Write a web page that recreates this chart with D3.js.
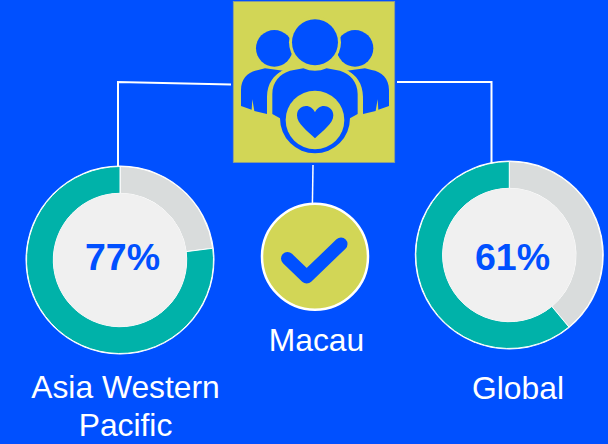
<!DOCTYPE html>
<html>
<head>
<meta charset="utf-8">
<script src="https://cdn.jsdelivr.net/npm/d3@7"></script>
<style>
  html, body { margin: 0; padding: 0; background: #0050ff; }
  svg { display: block; }
  text { font-family: "Liberation Sans", Arial, sans-serif; }
</style>
</head>
<body>
<svg width="608" height="444"></svg>
<script>
// Values
let regions = ["Asia Western Pacific", "Global"];
let coverage = [77, 61];
let partLabels = ["remaining", "covered"];
let middleRegion = "Macau";

let svg = d3.select("svg");
let blue = "#0050ff", teal = "#00b2a9", grey = "#d9dcdc", pale = "#f0f0f0", yellow = "#d2d656";

// Connector lines, behind everything
let connectors = svg.append("g").attr("fill", "none").attr("stroke", "#fff").attr("stroke-width", 2);
connectors.append("path").attr("d", "M231,84.5L118,82V167");
connectors.append("path").attr("d", "M397,82H491.5V163");
connectors.append("path").attr("d", "M313,165L312.4,204").attr("stroke-width", 1.5);

// Donuts
let pie = d3.pie().sort(null).value(d => d.value);
let arc = d3.arc().innerRadius(66.7).outerRadius(93.5);
let centers = [[120, 260], [509.3, 255]];
let percentPos = [[122.5, 270], [512.5, 270]];
let labelLines = [["Asia Western", "Pacific"], ["Global"]];
let labelPos = [[125.5, 398, 38], [518, 399, 38]];

regions.forEach((name, i) => {
  let parts = [
    { name: partLabels[0], value: 100 - coverage[i] },
    { name: partLabels[1], value: coverage[i] }
  ];
  let g = svg.append("g").attr("class", "donut").attr("transform", `translate(${centers[i]})`);
  g.append("circle").attr("r", 94.5).attr("fill", "#fff");
  g.selectAll("path").data(pie(parts)).join("path")
    .attr("d", arc)
    .attr("fill", (d, j) => j == 0 ? grey : teal)
    .attr("stroke", "#fff")
    .attr("stroke-width", 1);
  g.append("circle").attr("r", 66.7).attr("fill", pale);
  svg.append("text")
    .attr("text-anchor", "middle")
    .attr("x", percentPos[i][0])
    .attr("y", percentPos[i][1])
    .attr("font-size", 37.5)
    .attr("font-weight", "bold")
    .attr("fill", blue)
    .text(coverage[i] + "%");

  svg.append("g").selectAll("text").data(labelLines[i]).join("text")
    .attr("x", labelPos[i][0])
    .attr("y", (d, j) => labelPos[i][1] + j * labelPos[i][2])
    .attr("text-anchor", "middle")
    .attr("font-size", 31.8)
    .attr("fill", "#fff")
    .text(d => d);
});

// Middle check badge
svg.append("circle")
  .attr("cx", 315).attr("cy", 256.7).attr("r", 53)
  .attr("fill", yellow).attr("stroke", "#fff").attr("stroke-width", 2.5);
svg.append("path")
  .attr("d", "M287.5,258.5L306.7,277L341,244")
  .attr("fill", "none").attr("stroke", blue)
  .attr("stroke-width", 13).attr("stroke-linecap", "round").attr("stroke-linejoin", "round");
svg.append("text")
  .attr("x", 316.5).attr("y", 351)
  .attr("text-anchor", "middle")
  .attr("font-size", 31.8)
  .attr("fill", "#fff")
  .text(middleRegion);

// People icon tile, drawn in 3x crop units
svg.append("rect")
  .attr("x", 233.3).attr("y", 1.5).attr("width", 161.4).attr("height", 161)
  .attr("fill", yellow).attr("stroke", "#8f9f8f").attr("stroke-width", 0.8);
let icon = svg.append("g").attr("transform", "translate(220,0) scale(0.3333)").attr("fill", blue);

icon.append("circle").attr("cx", 163).attr("cy", 145).attr("r", 55);
icon.append("circle").attr("cx", 405).attr("cy", 145).attr("r", 55);
// side bodies
icon.append("path").attr("d", "M63,318V270C63,235 85,215 115,210L135,205L190,212C160,225 142,250 141,290V342L103,333L97,298L95,329Z");
icon.append("path").attr("d", "M507,318V270C507,235 485,215 455,210L435,205L380,212C410,225 428,250 429,290V342L467,333L473,298L475,329Z");
// yellow halo around the front head, then the head
icon.append("circle").attr("cx", 285).attr("cy", 127).attr("r", 78).attr("fill", yellow);
icon.append("circle").attr("cx", 285).attr("cy", 127).attr("r", 69);
// front body with halo, its lower edge is the ring round the heart
let body = "M157,342V282C157,245 180,222 210,212L250,205Q285,220 320,205L360,212C390,222 413,245 413,282V342L390,355A105,105 0 1 1 180,355Z";
icon.append("path").attr("d", "M157,342V282C157,245 180,222 210,212L250,205Q285,220 320,205L360,212C390,222 413,245 413,282V342L385,360H185Z")
  .attr("fill", yellow).attr("stroke", yellow).attr("stroke-width", 20);
icon.append("path").attr("d", body);
icon.append("circle").attr("cx", 285).attr("cy", 360).attr("r", 88).attr("fill", yellow);
icon.append("path").attr("d", "M285,415C262,392 231,372 231,346C231,326 247,318 258,318C270,318 280,326 285,337C290,326 300,318 312,318C323,318 340,326 340,346C340,372 308,392 285,415Z");
</script>
</body>
</html>
